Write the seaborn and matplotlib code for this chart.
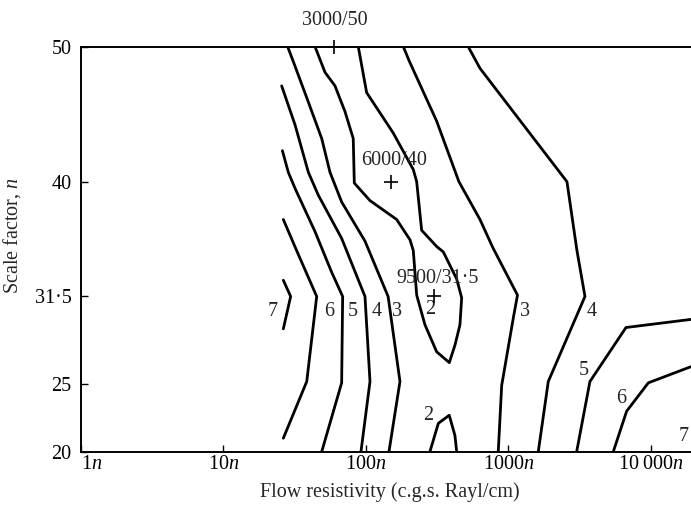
import numpy as np
import pandas as pd
import matplotlib
matplotlib.use("Agg")
import matplotlib.pyplot as plt
import seaborn as sns

# ---- contour lines: flow resistivity (units of n) vs scale factor n ----
c7a_x = [26.3, 29.6, 26.3]
c7a_y = [32.7, 31.5, 29.1]
c6a_x = [26.3, 32.6, 45.1, 38.4, 26.3]
c6a_y = [37.2, 34.9, 31.5, 25.2, 21.0]
c5a_x = [25.9, 28.5, 31.8, 43.9, 57.4, 68.6, 67.5, 48.9]
c5a_y = [42.3, 40.7, 39.5, 36.3, 33.3, 31.5, 25.1, 20.0]
c4a_x = [25.6, 31.8, 39.4, 46.3, 67.5, 98.4, 106.7, 92.2]
c4a_y = [47.1, 44.2, 40.7, 39.0, 35.8, 31.5, 25.2, 20.0]
c3a_x = [28.2, 30.9, 39.4, 48.9, 55.9, 67.5, 98.4, 143.0, 173.2, 145.0]
c3a_y = [50.0, 48.9, 45.9, 43.2, 40.7, 38.5, 35.6, 31.5, 25.2, 20.0]
c2a_x = [43.9, 51.6, 60.6, 71.2, 81.4, 82.8, 106.7, 164.2, 203.6, 214.8, 226.9,
         259.4, 313.4, 384.3, 421.4, 456.6, 469.4, 432.9, 348.8, 313.4, 245.9,
         226.9, 214.8, 155.5, 101.1, 88.3]
c2a_y = [50.0, 48.1, 47.1, 45.2, 43.2, 39.9, 38.6, 37.2, 35.7, 34.9, 31.6,
         29.4, 27.4, 26.6, 27.9, 29.4, 31.4, 32.8, 34.8, 35.2, 36.4,
         40.0, 40.9, 43.6, 46.6, 50.0]
c2b_x = [281.0, 322.0, 384.0, 421.0, 433.0]
c2b_y = [20.0, 22.1, 22.7, 21.2, 20.0]
c3b_x = [183.0, 200.0, 313.0, 449.0, 631.0, 778.0, 1157.0, 1081.0, 896.0, 848.0]
c3b_y = [50.0, 49.0, 44.5, 40.0, 37.2, 35.1, 31.6, 29.9, 24.9, 20.0]
c4b_x = [522.0, 631.0, 2573.0, 3024.0, 3443.0, 1903.0, 1619.0]
c4b_y = [50.0, 48.4, 40.0, 34.9, 31.5, 25.2, 20.0]
c5b_x = [3010.0, 3730.0, 6680.0, 19100.0]
c5b_y = [20.0, 25.2, 29.2, 29.8]
c6b_x = [5440.0, 6750.0, 9580.0, 19100.0]
c6b_y = [20.0, 23.0, 25.1, 26.3]

# ---- contour labels ----
lab_text = ["7", "6", "5", "4", "3", "2", "2", "3", "4", "5", "6", "7"]
lab_x = [22.1, 55.3, 81.4, 118.9, 164.2, 281.2, 273.6, 1306.0, 3836.0, 3349.0, 6228.0, 17000.0]
lab_y = [30.4, 30.4, 30.4, 30.4, 30.4, 30.5, 22.7, 30.4, 30.4, 26.05, 23.96, 21.11]

# ---- marked points ----
pt_x = [60.0, 150.0, 301.6]
pt_y = [50.0, 40.0, 31.5]
pt_text = ["3000/50", "6000/40", "9500/31\u00b75"]

# ---- axes ticks ----
xticks = [1, 10, 100, 1000, 10000]
xticklabels = ["1$n$", "10$n$", "100$n$", "1000$n$", "10\u2009000$n$"]
yticks = [20, 25, 31.5, 40, 50]
yticklabels = ["20", "25", "31\u00b75", "40", "50"]

sns.set_style("ticks")
plt.rcParams["font.family"] = ["Liberation Serif", "DejaVu Serif"]
plt.rcParams["mathtext.fontset"] = "custom"
plt.rcParams["mathtext.rm"] = "Liberation Serif"
plt.rcParams["mathtext.it"] = "Liberation Serif:italic"

segs = [(c7a_x, c7a_y), (c6a_x, c6a_y), (c5a_x, c5a_y), (c4a_x, c4a_y),
        (c3a_x, c3a_y), (c2a_x, c2a_y), (c2b_x, c2b_y), (c3b_x, c3b_y),
        (c4b_x, c4b_y), (c5b_x, c5b_y), (c6b_x, c6b_y)]
rows = []
for i, (xs, ys) in enumerate(segs):
    for j, (a, b) in enumerate(zip(xs, ys)):
        rows.append({"seg": i, "order": j, "R": a, "n": b})
df = pd.DataFrame(rows)

W, H = 691, 507
fig = plt.figure(figsize=(W / 100, H / 100), dpi=100)
ax = fig.add_axes([81 / W, 1 - 451.7 / H, 610 / W, 405 / H])

sns.lineplot(data=df, x="R", y="n", units="seg", estimator=None, sort=False,
             color="black", linewidth=2.0, ax=ax, legend=False)

ax.set_xscale("log")
ax.set_xlim(1, 19100)
ax.set_ylim(20, 50)

pts = pd.DataFrame({"R": pt_x, "n": pt_y})
sns.scatterplot(data=pts, x="R", y="n", marker="+", s=110, color="black",
                linewidth=1.2, ax=ax, legend=False, zorder=5)
for coll in ax.collections:
    coll.set_clip_on(False)

fs = 14.5
offs = [(0, 19), (2.5, 15.5), (2, 13)]
for x, y, t, o in zip(pt_x, pt_y, pt_text, offs):
    ax.annotate(t, (x, y), xytext=o, textcoords="offset points",
                ha="center", va="center", fontsize=fs)

for t, x, y in zip(lab_text, lab_x, lab_y):
    ax.text(x, y, t, ha="center", va="center", fontsize=fs)

ax.set_xticks(xticks)
ax.set_xticklabels(xticklabels)
ax.minorticks_off()
ax.set_yticks(yticks)
ax.set_yticklabels(yticklabels)
ax.tick_params(direction="in", length=5, width=1.0, labelsize=fs, colors="black")
ax.tick_params(axis="y", pad=7)
ax.tick_params(axis="x", pad=2.5)
ax.get_xticklabels()[0].set_horizontalalignment("left")

for s in ["left", "bottom", "top"]:
    ax.spines[s].set_linewidth(1.4)
    ax.spines[s].set_color("black")
ax.spines["right"].set_visible(False)

ax.set_xlabel("Flow resistivity (c.g.s. Rayl/cm)", fontsize=fs)
ax.set_ylabel("Scale factor, $n$", fontsize=fs)
ax.xaxis.set_label_coords((390 - 81) / 610, -0.075)
ax.yaxis.set_label_coords((23 - 81) / 610, (451.7 - 236) / 405)

fig.savefig("out.png", dpi=100)
